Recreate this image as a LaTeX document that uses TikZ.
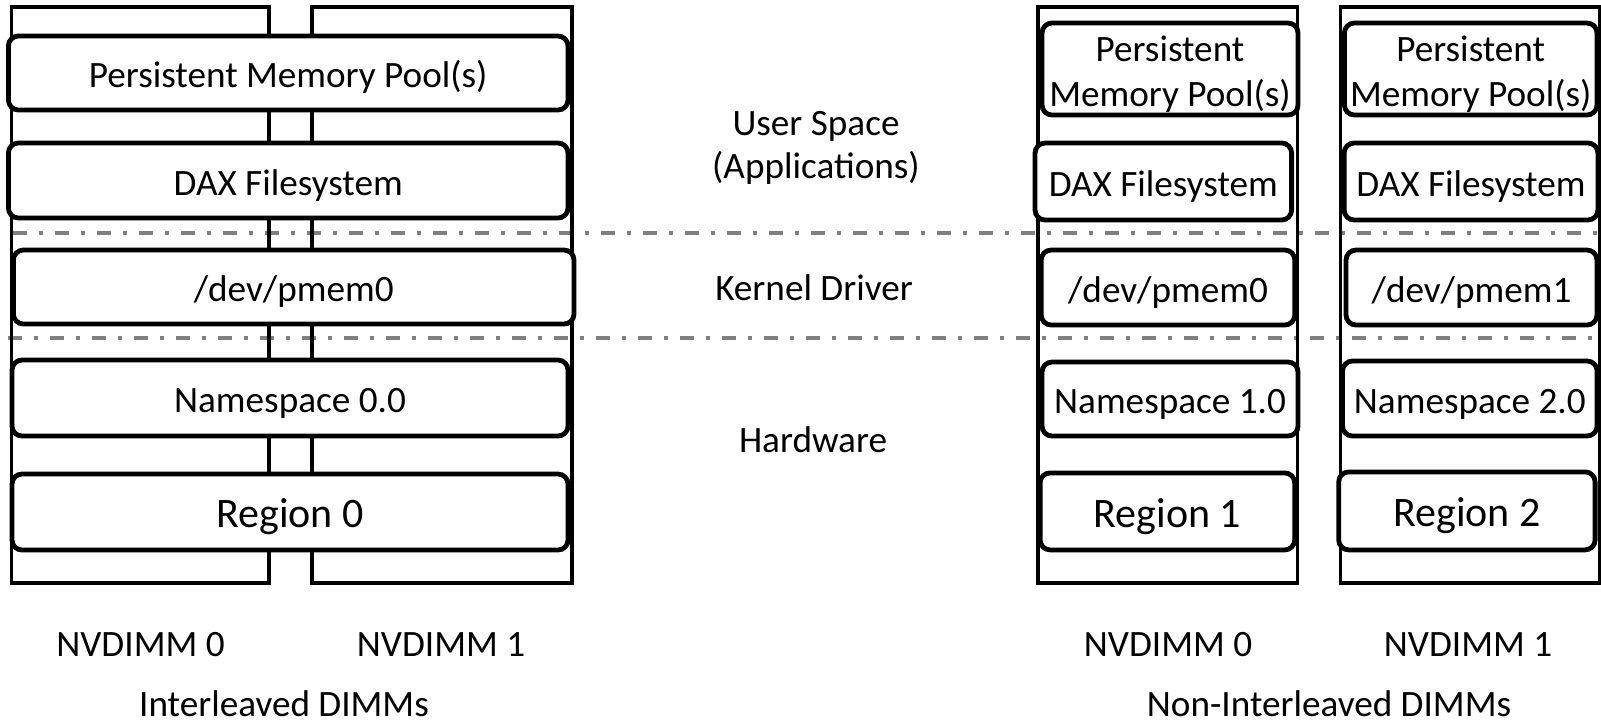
\documentclass[tikz,border=0pt]{standalone}
\usepackage{fontspec}
\setmainfont{Carlito}
\definecolor{layergray}{RGB}{128,128,128}
\tikzset{
  dimm/.style={draw, line width=1.9pt},
  blk/.style={draw, line width=2.4pt, rounded corners=5pt, fill=white, inner sep=0pt,
    text height=18pt, text depth=3.4pt, font=\fontsize{18.6}{22}\selectfont},
  poolblk/.style={draw, line width=2.4pt, rounded corners=5pt, fill=white, inner sep=0pt,
    align=center, font=\fontsize{18.6}{22.5}\selectfont},
  regblk/.style={blk, text height=19.5pt, text depth=3.8pt, font=\fontsize{21}{25}\selectfont},
  lbl/.style={inner sep=0pt, font=\fontsize{18.6}{22}\selectfont},
  layer/.style={layergray, line width=2pt, dash pattern=on 7pt off 6pt on 2pt off 6pt}
}
\newcommand\poolstrut{\rule{0pt}{17.5pt}}
\begin{document}
\begin{tikzpicture}[x=0.5pt,y=-0.5pt]
    \useasboundingbox (0,0) rectangle (1601,720);
    \draw[layer] (13,233) -- (1601,233);
    \draw[layer] (8,338) -- (1601,338);
    \draw[dimm] (11.5,7) rectangle (269,583);
    \draw[dimm] (312,7) rectangle (572,583);
    \draw[dimm] (1038,7) rectangle (1297.5,583);
    \draw[dimm] (1340.5,7) rectangle (1600,583);
    \node[blk, minimum width=279.8pt, minimum height=37pt] (poolA) at (288.2,73) {Persistent Memory Pool(s)};
    \node[blk, minimum width=279.8pt, minimum height=37.5pt] (daxA) at (288.2,180.5) {DAX Filesystem};
    \node[blk, minimum width=280.3pt, minimum height=37pt] (pmemA) at (293.7,287) {/dev/pmem0};
    \node[blk, minimum width=278pt, minimum height=38pt] (nsA) at (290,398) {Namespace 0.0};
    \node[regblk, minimum width=278pt, minimum height=38pt] (regA) at (290,512) {Region 0};
    \node[poolblk, minimum width=128pt, minimum height=46pt] (poolB) at (1170,69) {\poolstrut Persistent\\Memory Pool(s)};
    \node[blk, minimum width=128.3pt, minimum height=38.5pt] (daxB) at (1163.3,181.5) {DAX Filesystem};
    \node[blk, minimum width=126.8pt, minimum height=37.5pt] (pmemB) at (1168,287.5) {/dev/pmem0};
    \node[blk, minimum width=128pt, minimum height=37pt] (nsB) at (1170,399) {Namespace 1.0};
    \node[regblk, minimum width=127.3pt, minimum height=38.5pt] (regB) at (1167.4,511.4) {Region 1};
    \node[poolblk, minimum width=126.3pt, minimum height=46pt] (poolC) at (1470.7,69) {\poolstrut Persistent\\Memory Pool(s)};
    \node[blk, minimum width=126.9pt, minimum height=38.5pt] (daxC) at (1471,181.5) {DAX Filesystem};
    \node[blk, minimum width=125.5pt, minimum height=37.5pt] (pmemC) at (1471.5,287.5) {/dev/pmem1};
    \node[blk, minimum width=127.3pt, minimum height=37.5pt] (nsC) at (1469.8,398.5) {Namespace 2.0};
    \node[regblk, minimum width=128.2pt, minimum height=39pt] (regC) at (1466.9,510.9) {Region 2};
    \node[lbl, anchor=base] (userL) at (816,135) {User Space};
    \node[lbl, anchor=base] (appsL) at (816,178) {(Applications)};
    \node[lbl, anchor=base] (kernL) at (814,300) {Kernel Driver};
    \node[lbl, anchor=base] (hwL) at (813,452) {Hardware};
    \node[lbl, anchor=base] (dimmA0) at (140.5,656) {NVDIMM 0};
    \node[lbl, anchor=base] (dimmA1) at (441,656) {NVDIMM 1};
    \node[lbl, anchor=base] (dimmB0) at (1168,656) {NVDIMM 0};
    \node[lbl, anchor=base] (dimmB1) at (1468,656) {NVDIMM 1};
    \node[lbl, anchor=base] (ilvL) at (284,716) {Interleaved DIMMs};
    \node[lbl, anchor=base] (nonL) at (1329,716) {Non-Interleaved DIMMs};
\end{tikzpicture}
\end{document}
